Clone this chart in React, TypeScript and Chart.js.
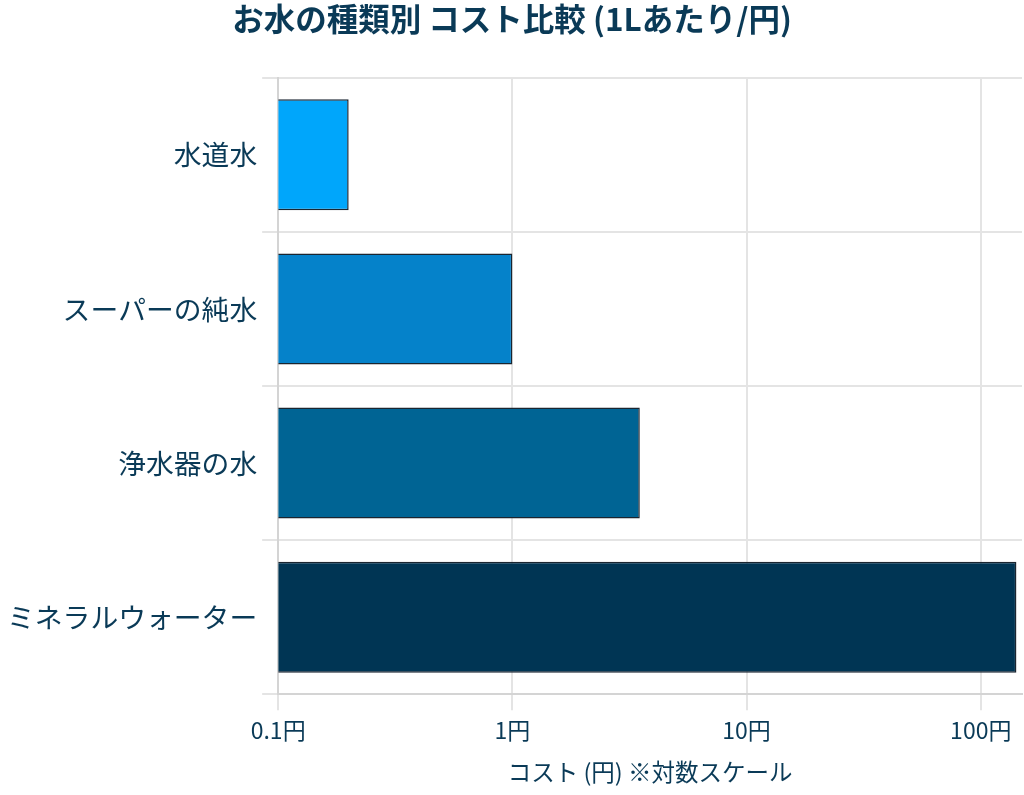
import { useEffect, useRef } from 'react';
import { Chart, registerables } from 'chart.js';

Chart.register(...registerables);

const CATEGORIES = ['水道水', 'スーパーの純水', '浄水器の水', 'ミネラルウォーター'];
const COST_PER_LITER = [0.2, 1, 3.5, 142];
const BAR_COLORS = ['#00A6FB', '#0582CA', '#006494', '#003554'];
const X_TICKS = [0.1, 1, 10, 100];

const TEXT = '#0a3a57';
const FONT = '"Noto Sans CJK JP", "Noto Sans", sans-serif';

export default function App() {
  const canvasRef = useRef<HTMLCanvasElement>(null);
  const chartRef = useRef<Chart | null>(null);

  useEffect(() => {
    if (!canvasRef.current) return;
    if (chartRef.current) chartRef.current.destroy();

    const ctx = canvasRef.current.getContext('2d')!;

    chartRef.current = new Chart(ctx, {
      type: 'bar',
      data: {
        labels: CATEGORIES,
        datasets: [
          {
            data: COST_PER_LITER,
            backgroundColor: BAR_COLORS,
            borderColor: '#1a2530',
            borderWidth: 1.5,
          },
        ],
      },
      options: {
        indexAxis: 'y',
        animation: false,
        responsive: true,
        maintainAspectRatio: false,
        layout: { padding: { left: 2, right: 2, top: 0, bottom: 9 } },
        plugins: {
          legend: { display: false },
          tooltip: { enabled: false },
          title: {
            display: true,
            text: 'お水の種類別 コスト比較 (1Lあたり/円)',
            color: TEXT,
            font: { family: FONT, size: 31.5, weight: 'bold' },
            padding: { top: 0, bottom: 40 },
          },
        },
        scales: {
          x: {
            type: 'logarithmic',
            min: 0.1,
            max: 150,
            // only show the decade ticks
            afterBuildTicks: (scale) => {
              scale.ticks = X_TICKS.map(v => ({ value: v }));
            },
            ticks: {
              color: TEXT,
              font: { family: FONT, size: 23 },
              padding: 6,
              maxRotation: 0,
              callback: (value) => `${value}円`,
            },
            grid: { color: '#e4e4e4', lineWidth: 2, tickLength: 16 },
            border: { color: '#d4d4d4', width: 2 },
            title: {
              display: true,
              text: 'コスト (円) ※対数スケール',
              color: TEXT,
              font: { family: FONT, size: 23.5 },
              padding: { top: 8, bottom: 0 },
            },
          },
          y: {
            ticks: {
              color: TEXT,
              font: { family: FONT, size: 27.8 },
              padding: 5,
            },
            grid: { color: '#e4e4e4', lineWidth: 2, tickLength: 16 },
            border: { color: '#d4d4d4', width: 2 },
          },
        },
      },
    });

    return () => chartRef.current?.destroy();
  }, []);

  return (
    <div style={{ position: 'absolute', left: 0, top: 0, width: 1024, height: 795, background: '#fff' }}>
      <canvas ref={canvasRef} />
    </div>
  );
}
